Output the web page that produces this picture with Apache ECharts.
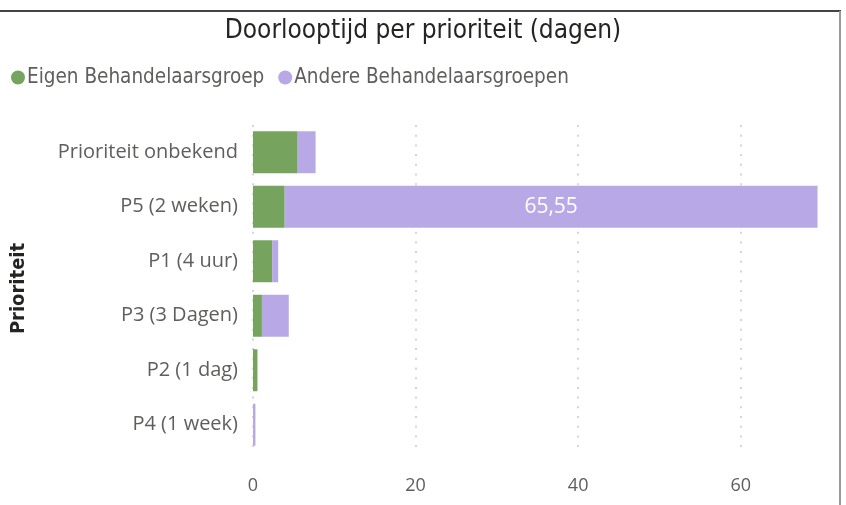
<!DOCTYPE html>
<html>
<head>
<meta charset="utf-8">
<script src="https://cdn.jsdelivr.net/npm/echarts@6/dist/echarts.min.js"></script>
<style>
  html, body { margin: 0; padding: 0; background: #fff; }
  #chart { width: 846px; height: 505px; }
</style>
</head>
<body>
<div id="chart"></div>
<script>
// Priority categories, top to bottom
const categories = ['Prioriteit onbekend', 'P5 (2 weken)', 'P1 (4 uur)', 'P3 (3 Dagen)', 'P2 (1 dag)', 'P4 (1 week)'];
// Lead time in days handled by the own group
const eigenGroep = [5.5, 3.9, 2.35, 1.1, 0.55, 0];
// Lead time in days handled by other groups
const andereGroepen = [2.2, 65.55, 0.75, 3.3, 0, 0.3];
// Value axis ticks
const xTicks = [0, 20, 40, 60];

const GREEN = '#76a45e';
const PURPLE = '#b9a8e6';
const condensed = '"DejaVu Sans Condensed", "Liberation Sans Narrow", sans-serif';
const body = '"Open Sans", "Noto Sans", sans-serif';

const chart = echarts.init(document.getElementById('chart'), null, { renderer: 'canvas' });

chart.setOption({
  animation: false,
  title: {
    text: 'Doorlooptijd per prioriteit (dagen)',
    left: 'center',
    top: 13,
    textStyle: { fontFamily: condensed, fontSize: 26, fontWeight: 'normal', color: '#252423' }
  },
  legend: {
    left: 6,
    top: 62,
    icon: 'circle',
    itemWidth: 14,
    itemHeight: 14,
    itemGap: 14,
    textStyle: { fontFamily: condensed, fontSize: 20.5, color: '#605e5c', padding: [0, 0, 0, -3] },
    data: ['Eigen Behandelaarsgroep', 'Andere Behandelaarsgroepen']
  },
  grid: { left: 253, top: 125, width: 569, height: 327, containLabel: false },
  xAxis: {
    type: 'value',
    min: 0,
    max: 70,
    interval: 20,
    axisLine: { show: false },
    axisTick: { show: false },
    splitLine: { show: false },
    axisLabel: {
      margin: 25,
      showMaxLabel: false,
      fontFamily: body,
      fontSize: 18,
      color: '#605e5c'
    }
  },
  yAxis: {
    type: 'category',
    inverse: true,
    data: categories,
    name: 'Prioriteit',
    nameLocation: 'middle',
    nameGap: 224,
    nameTextStyle: { fontFamily: condensed, fontSize: 20, color: '#252423', fontWeight: 'bold' },
    axisLine: { show: false },
    axisTick: { show: false },
    axisLabel: { margin: 15, fontFamily: body, fontSize: 20, color: '#605e5c' }
  },
  series: [
    {
      name: 'Eigen Behandelaarsgroep',
      type: 'bar',
      stack: 'totaal',
      barWidth: '77%',
      itemStyle: { color: GREEN },
      data: eigenGroep,
      z: 3,
      // dotted vertical gridlines at the tick values
      markLine: {
        silent: true,
        symbol: 'none',
        label: { show: false },
        lineStyle: { type: [2, 7.7], color: '#c8c8c8', width: 1.5 },
        z: 1,
        data: xTicks.map(v => ({ xAxis: v }))
      }
    },
    {
      name: 'Andere Behandelaarsgroepen',
      type: 'bar',
      stack: 'totaal',
      barWidth: '77%',
      itemStyle: { color: PURPLE },
      z: 3,
      label: {
        show: true,
        position: 'inside',
        fontFamily: body,
        fontSize: 21,
        color: '#ffffff',
        formatter: p => p.value > 20 ? String(p.value).replace('.', ',') : ''
      },
      data: andereGroepen
    }
  ],
  graphic: [
    { type: 'line', shape: { x1: 0, y1: 11, x2: 841, y2: 11 }, style: { stroke: '#444', lineWidth: 2 }, silent: true },
    { type: 'line', shape: { x1: 840, y1: 11, x2: 840, y2: 505 }, style: { stroke: '#9a9a9a', lineWidth: 2 }, silent: true }
  ]
});
</script>
</body>
</html>
